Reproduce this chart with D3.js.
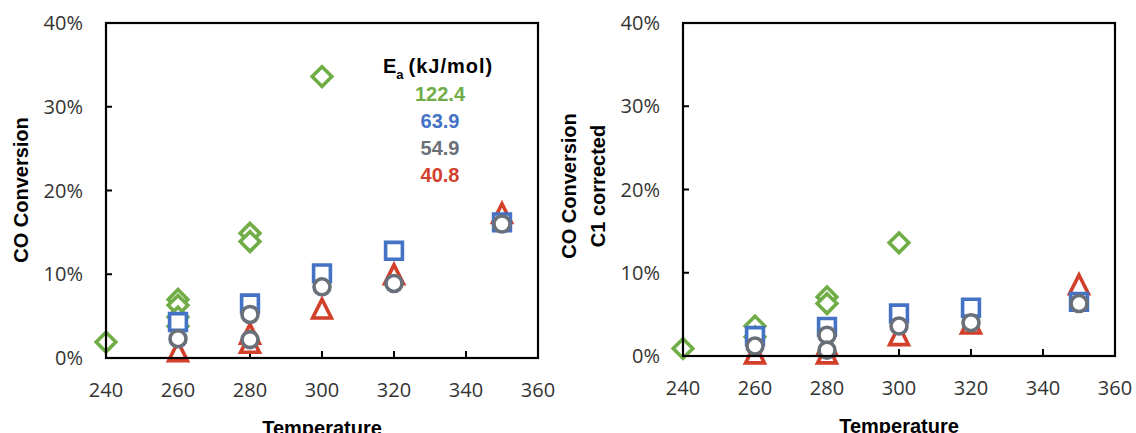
<!DOCTYPE html>
<html>
<head>
<meta charset="utf-8">
<script src="https://cdn.jsdelivr.net/npm/d3@7"></script>
<style>
  html, body { margin: 0; padding: 0; background: #fff; }
  svg { display: block; }
  .tick-label { font-family: "Open Sans", sans-serif; font-size: 20px; fill: #333; }
  .axis-title { font-family: "Liberation Sans", Arial, sans-serif; font-size: 20px; font-weight: bold; fill: #000; }
  .ea { font-family: "Liberation Sans", Arial, sans-serif; font-weight: bold; }
</style>
</head>
<body>
<svg id="chart" width="1136" height="433"></svg>
<script>
// Temperatures (°C) and CO conversion (%) per catalyst series.
// Panel A: raw CO conversion
const greenTempA = [240, 260, 260, 260, 260, 280, 280, 300];
const greenConvA = [1.9, 7.0, 6.3, 4.9, 3.8, 14.9, 13.9, 33.6];
const blueTempA  = [260, 280, 300, 320, 350];
const blueConvA  = [4.3, 6.5, 10.1, 12.8, 16.2];
const grayTempA  = [260, 280, 280, 300, 320, 350];
const grayConvA  = [2.3, 5.2, 2.2, 8.5, 8.9, 16.0];
const redTempA   = [260, 280, 280, 300, 320, 350];
const redConvA   = [0.8, 2.9, 1.8, 5.9, 10.0, 17.3];

// Panel B: CO conversion to C1 products
const greenTempB = [240, 260, 260, 280, 280, 300];
const greenConvB = [0.9, 3.6, 2.3, 7.1, 6.3, 13.6];
const blueTempB  = [260, 280, 300, 320, 350];
const blueConvB  = [2.4, 3.5, 5.1, 5.8, 6.5];
const grayTempB  = [260, 280, 280, 300, 320, 350];
const grayConvB  = [1.2, 2.5, 0.7, 3.6, 4.0, 6.3];
const redTempB   = [260, 280, 280, 300, 320, 350];
const redConvB   = [0.3, 1.3, 0.3, 2.5, 3.9, 8.6];

// Axis ticks
const xTicks = [240, 260, 280, 300, 320, 340, 360];
const yTicks = [0, 10, 20, 30, 40];

// Activation energies (kJ/mol)
const eaValues = ["122.4", "63.9", "54.9", "40.8"];

const colors = { green: "#70AD47", blue: "#4472C4", gray: "#6A7079", red: "#D23F2B" };

// Open marker shapes; size = half-extent in px
const shapes = {
  diamond: { draw(c, r) { c.moveTo(0, -r); c.lineTo(r, 0); c.lineTo(0, r); c.lineTo(-r, 0); c.closePath(); } },
  square:  { draw(c, r) { c.rect(-r, -r, 2 * r, 2 * r); } },
  triangle:{ draw(c, r) { c.moveTo(0, -r); c.lineTo(r, r); c.lineTo(-r, r); c.closePath(); } },
  circle:  { draw(c, r) { c.moveTo(r, 0); c.arc(0, 0, r, 0, 2 * Math.PI); } }
};
const markerSize = { diamond: 9.8, square: 8.4, triangle: 9.4, circle: 8.0 };

const svg = d3.select("#chart");

function drawPanel(p) {
  const x = d3.scaleLinear().domain([240, 360]).range([p.x0, p.x1]);
  const y = d3.scaleLinear().domain([0, 40]).range([p.yBot, p.yTop]);
  const g = svg.append("g");

  // tick marks pointing into the plot
  g.selectAll(".xt").data(xTicks.slice(1, -1)).join("line")
    .attr("x1", d => x(d)).attr("x2", d => x(d))
    .attr("y1", p.yBot).attr("y2", p.yBot - 7)
    .attr("stroke", "#000").attr("stroke-width", 2);
  g.selectAll(".yt").data(yTicks.slice(1, -1)).join("line")
    .attr("x1", p.x0).attr("x2", p.x0 + 6)
    .attr("y1", d => y(d)).attr("y2", d => y(d))
    .attr("stroke", "#000").attr("stroke-width", 2);

  // tick labels
  g.selectAll(".xl").data(xTicks).join("text").attr("class", "tick-label")
    .attr("x", d => x(d)).attr("y", p.yBot + 39)
    .attr("text-anchor", "middle").text(d => d);
  g.selectAll(".yl").data(yTicks).join("text").attr("class", "tick-label")
    .attr("x", p.x0 - 23).attr("y", d => y(d)).attr("dy", "0.36em")
    .attr("text-anchor", "end").text(d => d + "%");

  // markers: green, red, blue, then gray on top
  const series = [
    { t: p.greenT, v: p.greenV, shape: "diamond", color: colors.green },
    { t: p.redT,   v: p.redV,   shape: "triangle", color: colors.red },
    { t: p.blueT,  v: p.blueV,  shape: "square",  color: colors.blue },
    { t: p.grayT,  v: p.grayV,  shape: "circle",  color: colors.gray }
  ];
  series.forEach(s => {
    const sym = d3.symbol().type(shapes[s.shape]).size(markerSize[s.shape]);
    g.append("g").selectAll("path").data(s.t.map((t, i) => [t, s.v[i]])).join("path")
      .attr("transform", d => `translate(${x(d[0])},${y(d[1])})`)
      .attr("d", sym)
      .attr("fill", "#fff")
      .attr("stroke", s.color)
      .attr("stroke-width", 3.6)
      .attr("stroke-linejoin", "miter");
  });

  // plot frame
  g.append("rect")
    .attr("x", p.x0).attr("y", p.yTop)
    .attr("width", p.x1 - p.x0).attr("height", p.yBot - p.yTop)
    .attr("fill", "none").attr("stroke", "#000").attr("stroke-width", 2.2);

  // axis titles
  g.append("text").attr("class", "axis-title")
    .attr("x", (p.x0 + p.x1) / 2).attr("y", p.xTitleY)
    .attr("text-anchor", "middle").text("Temperature");
  p.yTitle.forEach((line, i) => {
    g.append("text").attr("class", "axis-title")
      .attr("transform", `translate(${p.yTitleX[i]},${p.yTitleMid}) rotate(-90)`)
      .attr("text-anchor", "middle").text(line);
  });
  return { x, y };
}

drawPanel({
  x0: 106, x1: 538, yTop: 23, yBot: 358, xTitleY: 435,
  yTitle: ["CO Conversion"], yTitleX: [28], yTitleMid: 190,
  greenT: greenTempA, greenV: greenConvA, blueT: blueTempA, blueV: blueConvA,
  grayT: grayTempA, grayV: grayConvA, redT: redTempA, redV: redConvA
});

drawPanel({
  x0: 683, x1: 1115, yTop: 23, yBot: 356, xTitleY: 433,
  yTitle: ["CO Conversion", "C1 corrected"], yTitleX: [576, 605], yTitleMid: 186,
  greenT: greenTempB, greenV: greenConvB, blueT: blueTempB, blueV: blueConvB,
  grayT: grayTempB, grayV: grayConvB, redT: redTempB, redV: redConvB
});

// activation energy annotation
const ann = svg.append("g").attr("class", "ea");
const head = ann.append("text").attr("x", 383).attr("y", 73).attr("font-size", 20).attr("fill", "#000");
head.append("tspan").text("E");
head.append("tspan").attr("font-size", 13).attr("dy", 6).text("a");
head.append("tspan").attr("dy", -6).attr("dx", 5).attr("letter-spacing", 1).text("(kJ/mol)");

const eaColors = [colors.green, colors.blue, colors.gray, colors.red];
ann.selectAll(".val").data(eaValues).join("text")
  .attr("x", 440).attr("y", (d, i) => 100.5 + i * 27)
  .attr("text-anchor", "middle").attr("font-size", 20)
  .attr("fill", (d, i) => eaColors[i]).text(d => d);
</script>
</body>
</html>
